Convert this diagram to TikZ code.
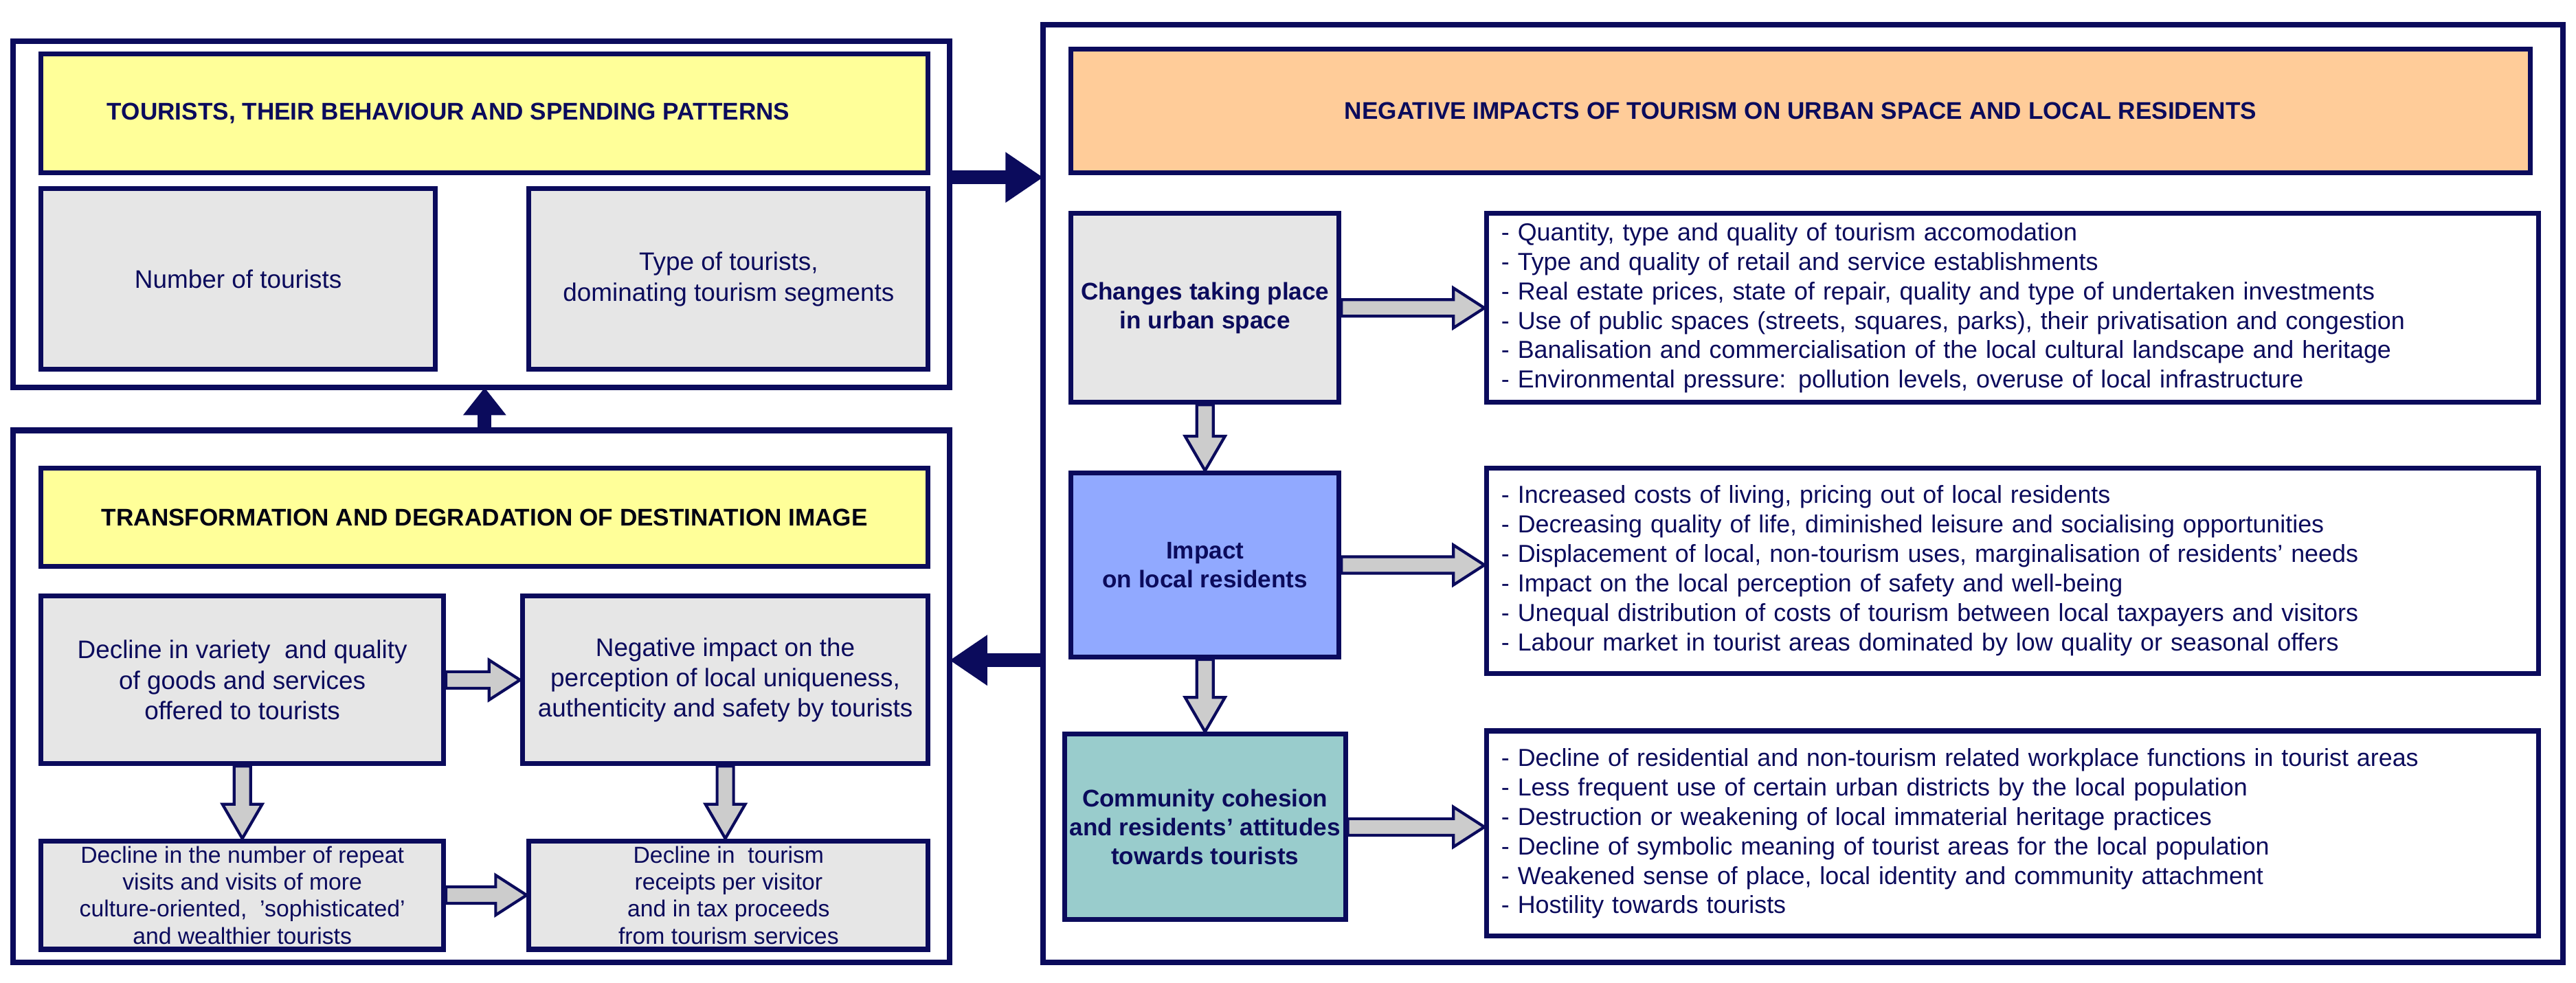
\documentclass[tikz,border=0pt]{standalone}
\usepackage{fontspec}
\setmainfont{Liberation Sans}
\usetikzlibrary{arrows.meta,calc}
\definecolor{navy}{HTML}{0B0B5C}
\definecolor{yel}{HTML}{FFFF99}
\definecolor{ora}{HTML}{FFCC99}
\definecolor{gr}{HTML}{E6E6E6}
\definecolor{blu}{HTML}{91A9FF}
\definecolor{tea}{HTML}{99CCCC}
\newcommand\mybox[7]{\node[#1,minimum width={(#5-#3)*0.023909cm},minimum height={(#6-#4)*0.023909cm}] (#2) at ({(#3+#5)/2},{-(#4+#6)/2}) {#7};}
\newcommand\harr[2]{\draw[garr] let \p1=(#1), \p2=(#2) in (\x1,{\y1+0.12cm}) -- ({\x2-0.45cm},{\y1+0.12cm}) -- ({\x2-0.45cm},{\y1+0.29cm}) -- (\x2,\y1) -- ({\x2-0.45cm},{\y1-0.29cm}) -- ({\x2-0.45cm},{\y1-0.12cm}) -- (\x1,{\y1-0.12cm}) -- cycle;}
\newcommand\varr[2]{\draw[garr] let \p1=(#1), \p2=(#2) in ({\x1-0.12cm},\y1) -- ({\x1-0.12cm},{\y2+0.5cm}) -- ({\x1-0.29cm},{\y2+0.5cm}) -- (\x1,\y2) -- ({\x1+0.29cm},{\y2+0.5cm}) -- ({\x1+0.12cm},{\y2+0.5cm}) -- ({\x1+0.12cm},\y1) -- cycle;}
\tikzset{
 outer/.style={draw=navy,line width=2.4pt,inner sep=0pt,fill=white},
 bx/.style={draw=navy,line width=2pt,inner sep=2pt,text=navy,align=center,font=\fontsize{10.5}{12.6}\selectfont},
 small/.style={font=\fontsize{9.6}{11.2}\selectfont},
 head/.style={bx,font=\bfseries\fontsize{10}{12}\selectfont,text=navy},
 lst/.style={bx,fill=white,align=left,inner xsep=6pt,font=\fontsize{10.2}{12.2}\selectfont,text=navy},
 garr/.style={draw=navy,fill=gray!40,line width=1.2pt,line join=miter},
 narrow/.style={draw=navy,line width=0.2cm,-{Triangle[length=0.55cm,width=0.7cm]}},
}
\begin{document}
\begin{tikzpicture}[x=0.023909cm,y=0.023909cm]
\useasboundingbox (0,0) rectangle (1568,-598.5);
% outer frames
\mybox{outer}{o1}{8}{25}{578}{236}{}
\mybox{outer}{o2}{8}{262}{578}{586}{}
\mybox{outer}{o3}{635}{15}{1560}{586}{}
% left top
\mybox{head,fill=yel,text=navy}{t1}{25}{33}{565}{105}{\hspace*{-3em}TOURISTS, THEIR BEHAVIOUR AND SPENDING PATTERNS}
\mybox{bx,fill=gr}{n1}{25}{115}{265}{225}{Number of tourists}
\mybox{bx,fill=gr}{n2}{322}{115}{565}{225}{Type of tourists,\\dominating tourism segments}
% left bottom
\mybox{head,fill=yel,text=black!80!navy}{t2}{25}{285}{565}{345}{TRANSFORMATION AND DEGRADATION OF DESTINATION IMAGE}
\mybox{bx,fill=gr}{a}{25}{363}{270}{465}{Decline in variety\ \ and quality\\of goods and services\\offered to tourists}
\mybox{bx,fill=gr}{b}{318}{363}{565}{465}{Negative impact on the\\perception of local uniqueness,\\authenticity and safety by tourists}
\mybox{bx,small,fill=gr}{c}{25}{512}{270}{578}{Decline in the number of repeat\\visits and visits of more\\culture-oriented,\ \ 'sophisticated'\\and wealthier tourists}
\mybox{bx,small,fill=gr}{d}{322}{512}{565}{578}{Decline in\ \ tourism\\receipts per visitor\\and in tax proceeds\\from tourism services}
% right
\mybox{head,fill=ora}{t3}{652}{30}{1540}{105}{NEGATIVE IMPACTS OF TOURISM ON URBAN SPACE AND LOCAL RESIDENTS}
\mybox{head,fill=gr}{r1}{652}{130}{815}{245}{Changes taking place\\in urban space}
\mybox{head,fill=blu}{r2}{652}{288}{815}{400}{Impact\\on local residents}
\mybox{head,fill=tea}{r3}{652}{447}{815}{560}{Community cohesion\\and residents' attitudes\\towards tourists}
\mybox{lst,text width={(640)*0.023909cm-12pt}}{l1}{905}{130}{1545}{245}{- Quantity, type and quality of tourism accomodation\\- Type and quality of retail and service establishments\\- Real estate prices, state of repair, quality and type of undertaken investments\\- Use of public spaces (streets, squares, parks), their privatisation and congestion\\- Banalisation and commercialisation of the local cultural landscape and heritage\\- Environmental pressure: pollution levels, overuse of local infrastructure}
\mybox{lst,text width={(640)*0.023909cm-12pt}}{l2}{905}{285}{1545}{410}{- Increased costs of living, pricing out of local residents\\- Decreasing quality of life, diminished leisure and socialising opportunities\\- Displacement of local, non-tourism uses, marginalisation of residents' needs\\- Impact on the local perception of safety and well-being\\- Unequal distribution of costs of tourism between local taxpayers and visitors\\- Labour market in tourist areas dominated by low quality or seasonal offers}
\mybox{lst,text width={(640)*0.023909cm-12pt}}{l3}{905}{445}{1545}{570}{- Decline of residential and non-tourism related workplace functions in tourist areas\\- Less frequent use of certain urban districts by the local population\\- Destruction or weakening of local immaterial heritage practices\\- Decline of symbolic meaning of tourist areas for the local population\\- Weakened sense of place, local identity and community attachment\\- Hostility towards tourists}
% navy arrows
\coordinate (p1) at (578,-108);
\coordinate (p2) at (635,-108);
\draw[narrow] (p1) -- (p2);
\coordinate (u1) at (295,-262);
\coordinate (u2) at (295,-236);
\draw[draw=navy,line width=0.2cm,-{Triangle[length=0.4cm,width=0.6cm]}] (u1) -- (u2);
\coordinate (q1) at (635,-402);
\coordinate (q2) at (578,-402);
\draw[narrow] (q1) -- (q2);
% gray arrows
\harr{r1.east}{l1.west}
\harr{r2.east}{l2.west}
\harr{r3.east}{l3.west}
\harr{a.east}{b.west}
\harr{c.east}{d.west}
\varr{r1.south}{r2.north}
\varr{r2.south}{r3.north}
\varr{a.south}{c.north}
\varr{b.south}{d.north}
\end{tikzpicture}
\end{document}
